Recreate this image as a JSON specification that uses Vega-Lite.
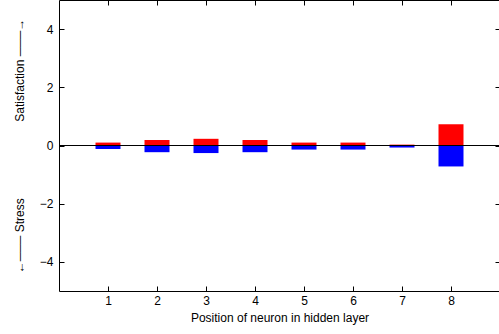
{
  "$schema": "https://vega.github.io/schema/vega-lite/v6.json",
  "width": 441,
  "height": 291,
  "autosize": "none",
  "padding": {"left": 59, "top": 0, "right": 0, "bottom": 43},
  "background": "white",
  "config": {
    "view": {"stroke": "black", "strokeWidth": 1},
    "font": "Liberation Sans",
    "axis": {
      "domain": false,
      "grid": false,
      "tickColor": "black",
      "tickSize": -5,
      "labelFont": "Liberation Sans",
      "labelFontSize": 12,
      "labelColor": "black",
      "titleFont": "Liberation Sans",
      "titleFontSize": 12,
      "titleFontWeight": "normal",
      "titleColor": "black"
    }
  },
  "data": {
    "values": [
      {"pos": 1, "series": "Satisfaction", "value": 0.1},
      {"pos": 1, "series": "Stress", "value": -0.12},
      {"pos": 2, "series": "Satisfaction", "value": 0.19},
      {"pos": 2, "series": "Stress", "value": -0.23},
      {"pos": 3, "series": "Satisfaction", "value": 0.23},
      {"pos": 3, "series": "Stress", "value": -0.26},
      {"pos": 4, "series": "Satisfaction", "value": 0.19},
      {"pos": 4, "series": "Stress", "value": -0.23},
      {"pos": 5, "series": "Satisfaction", "value": 0.1},
      {"pos": 5, "series": "Stress", "value": -0.14},
      {"pos": 6, "series": "Satisfaction", "value": 0.1},
      {"pos": 6, "series": "Stress", "value": -0.14},
      {"pos": 7, "series": "Satisfaction", "value": 0.03},
      {"pos": 7, "series": "Stress", "value": -0.07},
      {"pos": 8, "series": "Satisfaction", "value": 0.73},
      {"pos": 8, "series": "Stress", "value": -0.72}
    ]
  },
  "layer": [
    {
      "mark": {"type": "bar", "width": 25},
      "encoding": {
        "x": {
          "field": "pos", "type": "quantitative",
          "scale": {"domain": [0, 9], "nice": false, "zero": false, "padding": 0},
          "axis": {"orient": "bottom", "values": [1, 2, 3, 4, 5, 6, 7, 8], "labelPadding": 9, "title": "Position of neuron in hidden layer", "titlePadding": 6}
        },
        "y": {
          "field": "value", "type": "quantitative",
          "scale": {"domain": [-5, 5], "nice": false, "padding": 0},
          "axis": {"orient": "left", "values": [-4, -2, 0, 2, 4], "labelPadding": 11, "title": "←─── Stress\u00a0\u00a0\u00a0\u00a0\u00a0\u00a0\u00a0\u00a0\u00a0\u00a0\u00a0\u00a0\u00a0\u00a0\u00a0\u00a0\u00a0\u00a0\u00a0\u00a0\u00a0\u00a0\u00a0Satisfaction ───→", "titlePadding": 13}
        },
        "color": {
          "field": "series", "type": "nominal",
          "scale": {"domain": ["Satisfaction", "Stress"], "range": ["#ff0000", "#0000ff"]},
          "legend": null
        }
      }
    },
    {
      "mark": {"type": "rule", "color": "black", "strokeWidth": 1},
      "encoding": {"y": {"datum": 0, "type": "quantitative", "axis": null}}
    },
    {
      "mark": {"type": "point", "opacity": 0},
      "encoding": {
        "x": {"field": "pos", "type": "quantitative", "axis": {"orient": "top", "values": [1, 2, 3, 4, 5, 6, 7, 8], "labels": false, "title": null}},
        "y": {"field": "value", "type": "quantitative", "axis": {"orient": "right", "values": [-4, -2, 0, 2, 4], "labels": false, "title": null}}
      }
    }
  ],
  "resolve": {"axis": {"x": "independent", "y": "independent"}}
}
